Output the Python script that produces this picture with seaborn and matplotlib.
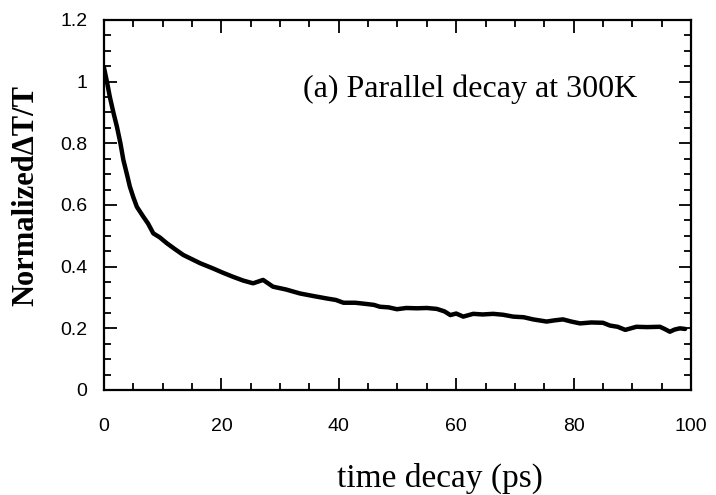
import matplotlib
matplotlib.use("Agg")
import matplotlib.pyplot as plt
import seaborn as sns
import pandas as pd
from matplotlib.ticker import MultipleLocator

time_ps = [0.0, 0.5, 1.0, 1.6, 2.2, 2.8, 3.3, 3.9, 4.4, 5.0, 5.6, 6.7, 7.5, 8.4, 9.5,
           10.7, 12.0, 13.5, 15.0, 16.4, 18.6, 20.3, 22.0, 23.7, 25.4, 27.1, 28.8,
           31.0, 33.4, 35.6, 37.9, 39.5, 40.8, 42.8, 44.7, 46.0, 47.0, 48.5, 49.9,
           51.5, 53.3, 55.0, 56.7, 58.0, 59.0, 60.0, 61.2, 62.9, 64.5, 66.3, 68.0,
           69.7, 71.5, 73.1, 75.4, 76.8, 78.2, 79.6, 81.1, 83.0, 85.0, 86.2, 87.5,
           88.8, 90.7, 92.5, 94.7, 95.5, 96.4, 97.2, 98.1, 99.0]
signal = [1.045, 1.00, 0.95, 0.90, 0.854, 0.80, 0.746, 0.70, 0.66, 0.625, 0.594, 0.562,
          0.540, 0.508, 0.495, 0.476, 0.458, 0.438, 0.424, 0.411, 0.394, 0.380, 0.367,
          0.355, 0.346, 0.357, 0.335, 0.326, 0.313, 0.305, 0.297, 0.292, 0.283, 0.283,
          0.279, 0.276, 0.270, 0.268, 0.262, 0.266, 0.265, 0.266, 0.263, 0.255, 0.243,
          0.248, 0.238, 0.247, 0.245, 0.247, 0.244, 0.238, 0.236, 0.229, 0.222, 0.226,
          0.229, 0.222, 0.216, 0.219, 0.218, 0.209, 0.205, 0.195, 0.205, 0.204, 0.205,
          0.198, 0.189, 0.196, 0.200, 0.198]
x_ticks = [0, 20, 40, 60, 80, 100]
x_tick_labels = ["0", "20", "40", "60", "80", "100"]
y_ticks = [0, 0.2, 0.4, 0.6, 0.8, 1.0, 1.2]
y_tick_labels = ["0", "0.2", "0.4", "0.6", "0.8", "1", "1.2"]

df = pd.DataFrame({"t": time_ps, "v": signal})

sns.set_style("ticks")
plt.rcParams["text.color"] = "black"
plt.rcParams["axes.labelcolor"] = "black"
plt.rcParams["xtick.color"] = "black"
plt.rcParams["ytick.color"] = "black"

fig = plt.figure(figsize=(7.16, 4.95), dpi=100)
ax = fig.add_axes([104/716, 1 - 390/495, (691-104)/716, (390-20)/495])

sns.lineplot(data=df, x="t", y="v", ax=ax, color="black", linewidth=3.2)

ax.set_xlim(0, 100)
ax.set_ylim(0, 1.2)
ax.set_xticks(x_ticks)
ax.set_xticklabels(x_tick_labels)
ax.set_yticks(y_ticks)
ax.set_yticklabels(y_tick_labels)
ax.xaxis.set_minor_locator(MultipleLocator(5))
ax.yaxis.set_minor_locator(MultipleLocator(0.05))

ax.tick_params(which="both", direction="in", top=True, right=True, color="black",
               width=1.3, labelcolor="black")
ax.tick_params(which="major", length=9)
ax.tick_params(which="minor", length=5)
ax.tick_params(axis="x", which="major", pad=20)
ax.tick_params(axis="y", which="major", pad=12)
for lab in ax.get_xticklabels() + ax.get_yticklabels():
    lab.set_fontfamily("Liberation Sans")
    lab.set_fontsize(14)
for sp in ax.spines.values():
    sp.set_linewidth(1.6)
    sp.set_color("black")

ax.set_xlabel("time decay (ps)", fontfamily="Liberation Serif", fontsize=24,
              va="baseline", color="black")
ax.xaxis.set_label_coords((440 - 104) / 587, (390 - 487) / 370)
ax.set_ylabel("Normalized\u0394T/T", fontfamily="Liberation Serif", fontsize=22,
              fontweight="bold", va="center", color="black")
ax.yaxis.set_label_coords((26 - 104) / 587, (390 - 195) / 370)
ax.text((303 - 104) / 587, (390 - 97) / 370, "(a) Parallel decay at 300K",
        transform=ax.transAxes, ha="left", va="baseline",
        fontfamily="Liberation Serif", fontsize=23, color="black")

fig.savefig("out.png", dpi=100)
